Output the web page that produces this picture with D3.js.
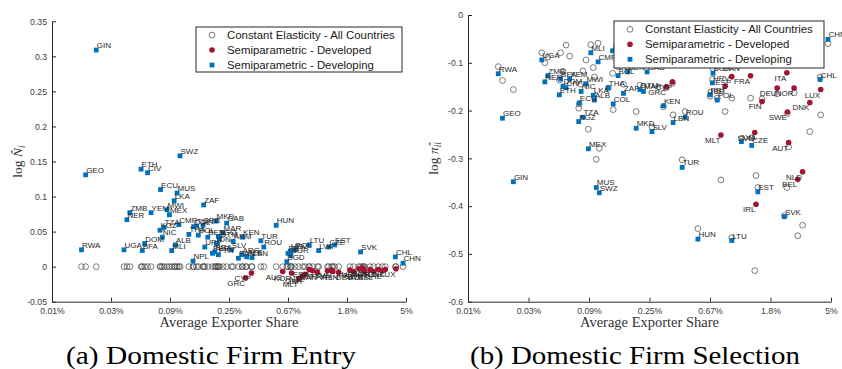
<!DOCTYPE html>
<html><head><meta charset="utf-8">
<script src="https://cdn.jsdelivr.net/npm/d3@7"></script>
<style>body{margin:0;background:#fff}svg{display:block}</style>
</head><body>
<svg id="c" width="842" height="369"></svg>
<script>
// ---------- DATA ----------
const xTickVals = [-9, -8, -7, -6, -5, -4, -3];            // ln(average exporter share)
const xTickLabels = ["0.01%", "0.03%", "0.09%", "0.25%", "0.67%", "1.8%", "5%"];
const yTicksEntry = [-0.05, 0, 0.05, 0.1, 0.15, 0.2, 0.25, 0.3, 0.35];
const yTicksSel = [-0.6, -0.5, -0.4, -0.3, -0.2, -0.1, 0];
const legendLabels = ["Constant Elasticity - All Countries", "Semiparametric - Developed", "Semiparametric - Developing"];

const devNames = ["GIN","GEO","RWA","UGA","ZMB","NER","BFA","ETH","CIV","YEM",
  "DOM","ECU","NIC","TZA","KGZ","MWI","MEX","LKA","ALB","MLI",
  "MUS","CMR","SWZ","NPL","COL","THA","TUN","BOL","SRB","ZAF",
  "BEN","URY","MKD","PER","BRA","GTM","PRY","GAB","MAR","IDN",
  "ARM","SLV","PAN","KEN","AZE","ARG","LBN","TGO","TUR","ROU",
  "HUN","BGD","BGR","HRV","PRT","POL","LTU","LVA","CZE","EST",
  "SVK","CHL","CHN"];
const devShare = [-8.25,-8.43,-8.50,-7.78,-7.68,-7.73,-7.47,-7.49,-7.38,-7.32,
  -7.43,-7.16,-7.13,-7.10,-7.17,-7.05,-7.01,-6.93,-6.91,-6.97,
  -6.88,-6.85,-6.83,-6.61,-6.60,-6.68,-6.55,-6.52,-6.44,-6.43,
  -6.36,-6.41,-6.22,-6.28,-6.24,-6.16,-6.18,-6.04,-6.10,-6.21,
  -5.93,-5.96,-5.84,-5.77,-5.70,-5.78,-5.61,-6.18,-5.46,-5.41,
  -5.20,-5.02,-4.95,-4.96,-5.00,-4.88,-4.64,-4.48,-4.31,-4.21,
  -3.77,-3.18,-3.05];
const devEntry = [0.309,0.131,0.024,0.024,0.077,0.067,0.023,0.139,0.134,0.077,
  0.033,0.110,0.042,0.056,0.052,0.081,0.074,0.094,0.031,0.023,
  0.105,0.060,0.158,0.008,0.057,0.046,0.058,0.045,0.059,0.088,
  0.042,0.028,0.065,0.019,0.021,0.040,0.017,0.062,0.048,0.033,
  0.036,0.024,0.012,0.042,0.014,0.017,0.013,0.043,0.037,0.028,
  0.059,0.007,0.016,0.022,0.019,0.024,0.031,0.023,0.028,0.031,
  0.021,0.014,0.005];
const devEntryCE = [0,0,0,0,0,0,0,0,0,0, 0,0,0,0,0,0,0,0,0,0, 0,0,0,0,0,0,0,0,0,0,
  0,0,0,0,0,0,0,0,0,0, 0,0,0,0,0,0,0,0,0,0, 0,0,0,0,0,0,0,0,0,0, 0,0,0];
const devSel = [-0.349,-0.216,-0.123,-0.094,-0.127,-0.140,-0.134,-0.167,-0.152,-0.133,
  -0.149,-0.184,-0.160,-0.214,-0.223,-0.144,-0.280,-0.168,-0.178,-0.079,
  -0.361,-0.098,-0.372,-0.075,-0.186,-0.152,-0.095,-0.127,-0.100,-0.164,
  -0.119,-0.080,-0.237,-0.085,-0.090,-0.156,-0.070,-0.119,-0.160,-0.080,
  -0.060,-0.244,-0.070,-0.190,-0.075,-0.085,-0.225,-0.090,-0.319,-0.214,
  -0.469,-0.050,-0.122,-0.142,-0.167,-0.178,-0.472,-0.265,-0.273,-0.370,
  -0.422,-0.135,-0.051];
const devSelCE = [-0.156,-0.137,-0.108,-0.079,-0.088,-0.100,-0.079,-0.136,-0.063,-0.086,
  -0.118,-0.186,-0.145,-0.117,-0.195,-0.094,-0.239,-0.110,-0.130,-0.062,
  -0.302,-0.059,-0.279,-0.122,-0.198,-0.153,-0.070,-0.108,-0.080,-0.145,
  -0.110,-0.060,-0.202,-0.070,-0.075,-0.147,-0.050,-0.100,-0.150,-0.060,
  -0.040,-0.234,-0.050,-0.192,-0.055,-0.065,-0.209,-0.070,-0.303,-0.202,
  -0.447,-0.040,-0.112,-0.135,-0.170,-0.174,-0.466,-0.258,-0.257,-0.361,
  -0.420,-0.130,-0.060];

const dedNames = ["GRC","CYP","AUS","KOR","MLT","NZL","GBR","ESP","ISR","CAN",
  "FRA","SVN","IRL","FIN","JPN","DEU","USA","SWE","ITA","AUT",
  "NOR","BEL","NLD","CHE","DNK","LUX"];
const dedShare = [-5.72,-5.62,-5.09,-4.94,-4.82,-4.71,-4.75,-4.64,-4.58,-4.50,
  -4.33,-4.26,-4.24,-4.14,-3.95,-3.89,-3.80,-3.72,-3.73,-3.70,
  -3.61,-3.55,-3.47,-3.40,-3.35,-3.17];
const dedEntry = [-0.016,-0.009,-0.007,-0.009,-0.017,-0.011,-0.013,-0.004,-0.006,-0.008,
  -0.006,-0.005,-0.007,-0.008,-0.005,-0.007,-0.003,-0.006,-0.002,-0.007,
  -0.004,-0.007,-0.004,-0.006,-0.004,-0.003];
const dedEntryCE = [0,0,0,0,0,0,0,0,0,0, 0,0,0,0,0,0,0,0,0,0, 0,0,0,0,0,0];
const dedSel = [-0.150,-0.140,-0.060,-0.045,-0.251,-0.075,-0.149,-0.129,-0.085,-0.100,
  -0.127,-0.246,-0.396,-0.181,-0.060,-0.153,-0.040,-0.203,-0.121,-0.267,
  -0.153,-0.344,-0.328,-0.080,-0.183,-0.156];
const dedSelCE = [-0.152,-0.143,-0.045,-0.035,-0.345,-0.060,-0.202,-0.174,-0.070,-0.085,
  -0.174,-0.535,-0.336,-0.176,-0.050,-0.165,-0.035,-0.206,-0.361,-0.276,
  -0.163,-0.462,-0.440,-0.070,-0.244,-0.209];

// ---------- DRAW ----------
const BLUE = "#0072bd", RED = "#a2142f", AX = "#262626";
const svg = d3.select("#c");

function panel(o) {
  const x = d3.scaleLinear().domain([xTickVals[0], xTickVals[xTickVals.length - 1]]).range(o.xr);
  const y = d3.scaleLinear().domain([o.yTicks[0], o.yTicks[o.yTicks.length - 1]]).range(o.yr);
  const g = svg.append("g");

  const ax = g.append("g").attr("transform", `translate(0,${o.yr[0]})`)
    .call(d3.axisBottom(x).tickValues(xTickVals).tickFormat((d, i) => xTickLabels[i])
      .tickSizeInner(-4).tickSizeOuter(0).tickPadding(6));
  const ay = g.append("g").attr("transform", `translate(${o.xr[0]},0)`)
    .call(d3.axisLeft(y).tickValues(o.yTicks).tickFormat(d => String(+d.toFixed(2)))
      .tickSizeInner(-4).tickSizeOuter(0).tickPadding(5));
  [ax, ay].forEach(a => {
    a.select(".domain").attr("stroke", AX).attr("stroke-width", 1);
    a.selectAll(".tick line").attr("stroke", AX);
    a.selectAll("text").attr("fill", "#404040").attr("font-family", "Liberation Sans, Arial, sans-serif").attr("font-size", 8.7);
  });

  const all = devNames.map((n, i) => ({x: devShare[i], y: o.devCE[i]}))
    .concat(dedNames.map((n, i) => ({x: dedShare[i], y: o.dedCE[i]})));
  g.append("g").selectAll("circle").data(all).join("circle")
    .attr("cx", d => x(d.x)).attr("cy", d => y(d.y)).attr("r", 2.9)
    .attr("fill", "none").attr("stroke", "#444").attr("stroke-width", 0.7);

  const reds = dedNames.map((n, i) => ({n, x: dedShare[i], y: o.ded[i]}));
  const blues = devNames.map((n, i) => ({n, x: devShare[i], y: o.dev[i]}));
  g.append("g").selectAll("circle").data(reds).join("circle")
    .attr("cx", d => x(d.x)).attr("cy", d => y(d.y)).attr("r", 2.8).attr("fill", RED);
  g.append("g").selectAll("rect").data(blues).join("rect")
    .attr("x", d => x(d.x) - 2.4).attr("y", d => y(d.y) - 2.4).attr("width", 4.8).attr("height", 4.8).attr("fill", BLUE);

  const lab = g.append("g").attr("font-family", "Liberation Sans, Arial, sans-serif").attr("font-size", 8).attr("fill", "#262626");
  lab.selectAll("text.r").data(reds).join("text").attr("class", "r")
    .attr("x", d => x(d.x) - 0.5).attr("y", d => y(d.y) + 8).attr("text-anchor", "end").text(d => d.n);
  lab.selectAll("text.b").data(blues).join("text").attr("class", "b")
    .attr("x", d => x(d.x) + 0.5).attr("y", d => y(d.y) - 2).text(d => d.n);

  // legend
  const L = o.leg;
  const lg = g.append("g");
  lg.append("rect").attr("x", L.x).attr("y", L.y).attr("width", L.w).attr("height", L.h)
    .attr("fill", "#fff").attr("stroke", AX).attr("stroke-width", 1);
  const rows = [0, 1, 2].map(i => L.y + L.r0 + i * L.dr);
  lg.append("circle").attr("cx", L.x + 16).attr("cy", rows[0]).attr("r", 2.9).attr("fill", "none").attr("stroke", "#444").attr("stroke-width", 0.7);
  lg.append("circle").attr("cx", L.x + 16).attr("cy", rows[1]).attr("r", 2.8).attr("fill", RED);
  lg.append("rect").attr("x", L.x + 16 - 2.4).attr("y", rows[2] - 2.4).attr("width", 4.8).attr("height", 4.8).attr("fill", BLUE);
  lg.selectAll("text").data(legendLabels).join("text")
    .attr("x", L.x + 31).attr("y", (d, i) => rows[i] + 4)
    .attr("font-family", "Liberation Sans, Arial, sans-serif").attr("font-size", 11.4).attr("fill", "#1a1a1a").text(d => d);

  // axis titles
  const xm = (o.xr[0] + o.xr[1]) / 2;
  g.append("text").attr("x", xm).attr("y", 327).attr("text-anchor", "middle")
    .attr("font-family", "Liberation Serif, Times New Roman, serif").attr("font-size", 14).attr("fill", "#333")
    .attr("textLength", 139).attr("lengthAdjust", "spacingAndGlyphs")
    .text("Average Exporter Share");
  const ym = (o.yr[0] + o.yr[1]) / 2;
  const yl = g.append("text").attr("transform", `translate(${o.ylx},${ym}) rotate(-90)`).attr("text-anchor", "middle")
    .attr("font-family", "Liberation Serif, Times New Roman, serif").attr("font-size", 13.5).attr("fill", "#333");
  yl.append("tspan").text("log ");
  yl.append("tspan").attr("font-style", "italic").text(o.ysym);
  yl.append("tspan").attr("font-style", "italic").attr("font-size", 9.5).attr("dy", 3).text(o.ysub);

  // caption
  svg.append("text").attr("x", o.capx).attr("y", 364).attr("text-anchor", "middle")
    .attr("font-family", "Liberation Serif, Times New Roman, serif").attr("font-size", 26).attr("fill", "#000")
    .attr("textLength", o.capw).attr("lengthAdjust", "spacingAndGlyphs")
    .text(o.cap);
}

panel({
  xr: [52, 406], yr: [301.7, 21.3], yTicks: yTicksEntry,
  dev: devEntry, ded: dedEntry, devCE: devEntryCE, dedCE: dedEntryCE,
  leg: {x: 196, y: 27, w: 206, h: 45, r0: 8, dr: 15},
  ylx: 22, ysym: "N\u0302", ysub: "i", cap: "(a) Domestic Firm Entry", capx: 211, capw: 290
});
panel({
  xr: [468, 831], yr: [301.7, 15], yTicks: yTicksSel,
  dev: devSel, ded: dedSel, devCE: devSelCE, dedCE: dedSelCE,
  leg: {x: 614, y: 21, w: 210, h: 47, r0: 8.3, dr: 15},
  ylx: 438, ysym: "\u03C0\u0302", ysub: "ii", cap: "(b) Domestic Firm Selection", capx: 635, capw: 330
});
</script>
</body></html>
